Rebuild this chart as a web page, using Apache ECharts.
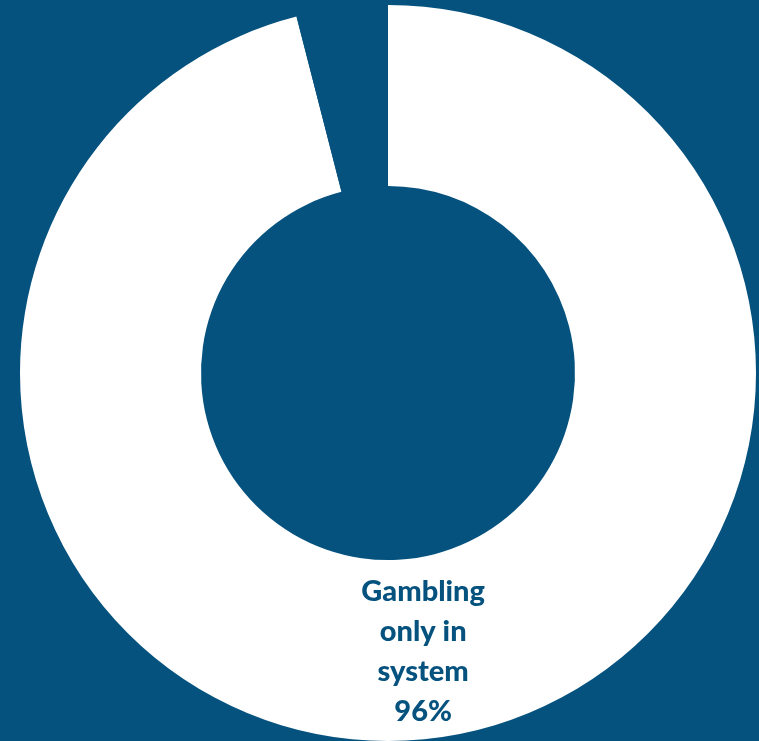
<!DOCTYPE html>
<html>
<head>
<meta charset="utf-8">
<script src="https://cdn.jsdelivr.net/npm/echarts@6/dist/echarts.min.js"></script>
<style>
  html, body { margin: 0; padding: 0; background: #05527F; }
  #chart { width: 759px; height: 741px; }
</style>
</head>
<body>
<div id="chart"></div>
<script>
// Share of gambling done only in the system vs. the remainder
const categories = ['Gambling only in system', 'Other'];
const values = [96, 4];
const percentLabels = ['96%', '4%'];

const bg = '#05527F';
const chart = echarts.init(document.getElementById('chart'));

chart.setOption({
  backgroundColor: bg,
  animation: false,
  series: [{
    type: 'pie',
    center: [388, 373],
    radius: [187, 368],
    startAngle: 90,
    clockwise: true,
    silent: true,
    data: categories.map((name, i) => ({
      name,
      value: values[i],
      itemStyle: { color: i === 0 ? '#FFFFFF' : bg },
      label: {
        show: i === 0,
        position: 'inside',
        formatter: () => 'Gambling\nonly in\nsystem\n' + percentLabels[i],
        color: bg,
        fontFamily: 'Lato',
        fontWeight: 900,
        fontSize: 29,
        lineHeight: 40,
        align: 'center'
      }
    })),
    labelLine: { show: false }
  }]
});
</script>
</body>
</html>
